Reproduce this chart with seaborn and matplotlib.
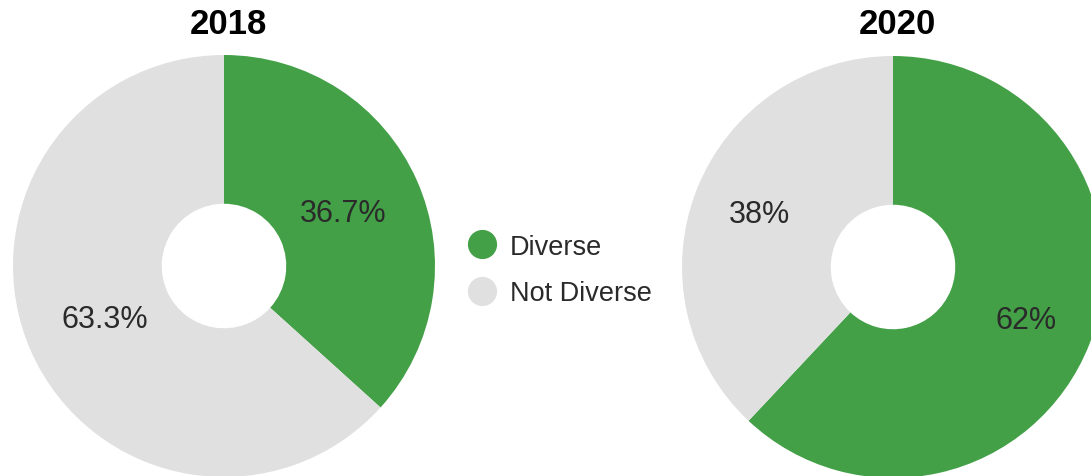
import matplotlib.pyplot as plt
from matplotlib.lines import Line2D
import seaborn as sns

years = ["2018", "2020"]
categories = ["Diverse", "Not Diverse"]
diverse = [36.7, 62]
not_diverse = [63.3, 38]
colors = ["#43a047", "#e0e0e0"]

sns.set_theme(style="white")
plt.rcParams["font.family"] = ["Liberation Sans", "DejaVu Sans"]

W, H = 1091, 477
fig = plt.figure(figsize=(W / 100, H / 100), dpi=100)

# pie centres / radius in pixels (measured from reference)
centres = [(224, 267), (893, 268)]
label_dist = [0.62, 0.68]
R = 211

for year, d, nd, (cx, cy), ld in zip(years, diverse, not_diverse, centres, label_dist):
    ax = fig.add_axes([(cx - R) / W, (H - cy - R) / H, 2 * R / W, 2 * R / H])
    vals = [d, nd]
    wedges, texts = ax.pie(
        vals,
        colors=colors,
        startangle=90,
        counterclock=False,
        radius=1,
        labels=[f"{v:g}%" for v in vals],
        labeldistance=ld,
        wedgeprops=dict(width=0.705, linewidth=0),
        textprops=dict(color="#2a2a2a", fontsize=22),
    )
    for t in texts:
        t.set_horizontalalignment("center")
        t.set_verticalalignment("center")
    ax.set_xlim(-1, 1)
    ax.set_ylim(-1, 1)
    ax.set_aspect("equal")
    fig.text(cx / W + 4 / W, 1 - 24 / H, year, ha="center", va="center",
             fontsize=25, fontweight="bold", color="#000000")

handles = [
    Line2D([], [], linestyle="none", marker="o", markersize=20,
           markerfacecolor=c, markeredgecolor=c)
    for c in colors
]
fig.legend(
    handles,
    categories,
    loc="center left",
    bbox_to_anchor=(444 / W, 1 - 271 / H),
    frameon=False,
    fontsize=19.5,
    handlelength=1.0,
    handletextpad=0.52,
    labelspacing=0.75,
    labelcolor="#2a2a2a",
)

fig.savefig("out.png", dpi=100)
